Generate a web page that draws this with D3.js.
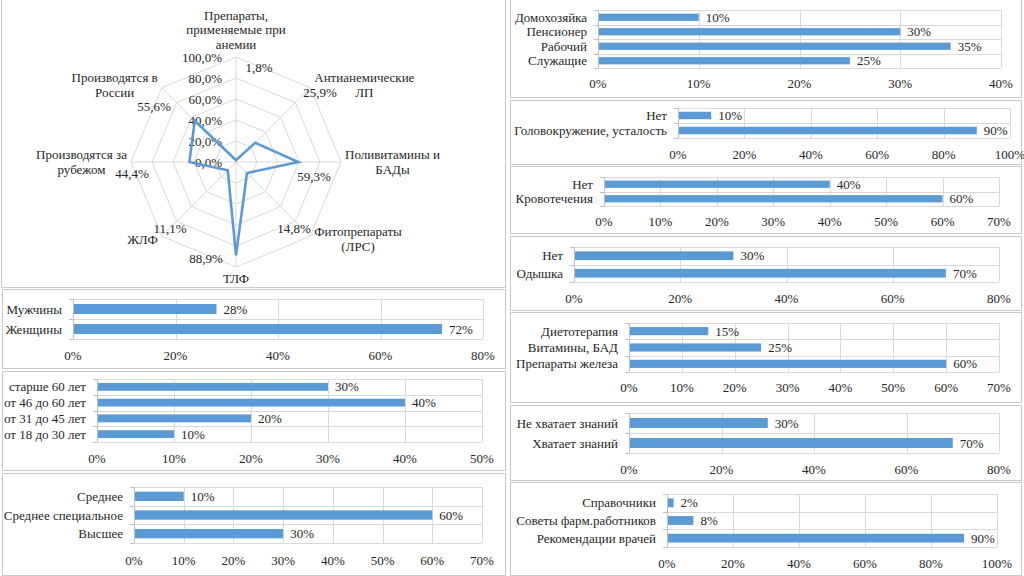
<!DOCTYPE html>
<html>
<head>
<meta charset="utf-8">
<script src="https://cdn.jsdelivr.net/npm/d3@7"></script>
<style>
  body { margin: 0; background: #fff; }
</style>
</head>
<body>
<div id="chart"></div>
<script>
// radar data
var radarCats = [["Препараты,", "применяемые при", "анемии"], ["Антианемические", "ЛП"], ["Поливитамины и", "БАДы"],
  ["Фитопрепараты", "(ЛРС)"], ["ТЛФ"], ["ЖЛФ"], ["Производятся за", "рубежом"], ["Производятся в", "России"]];
var radarVals = [1.8, 25.9, 59.3, 14.8, 88.9, 11.1, 44.4, 55.6];
var radarTicks = [0, 20, 40, 60, 80, 100];

// bar charts data
var genderCats = ["Мужчины", "Женщины"];
var genderVals = [28, 72];
var genderTicks = [0, 20, 40, 60, 80];

var ageCats = ["старше 60 лет", "от 46 до 60 лет", "от 31 до 45 лет", "от 18 до 30 лет"];
var ageVals = [30, 40, 20, 10];
var ageTicks = [0, 10, 20, 30, 40, 50];

var eduCats = ["Среднее", "Среднее специальное", "Высшее"];
var eduVals = [10, 60, 30];
var eduTicks = [0, 10, 20, 30, 40, 50, 60, 70];

var jobCats = ["Домохозяйка", "Пенсионер", "Рабочий", "Служащие"];
var jobVals = [10, 30, 35, 25];
var jobTicks = [0, 10, 20, 30, 40];

var dizzyCats = ["Нет", "Головокружение, усталость"];
var dizzyVals = [10, 90];
var dizzyTicks = [0, 20, 40, 60, 80, 100];

var bleedCats = ["Нет", "Кровотечения"];
var bleedVals = [40, 60];
var bleedTicks = [0, 10, 20, 30, 40, 50, 60, 70];

var dyspCats = ["Нет", "Одышка"];
var dyspVals = [30, 70];
var dyspTicks = [0, 20, 40, 60, 80];

var treatCats = ["Диетотерапия", "Витамины, БАД", "Препараты железа"];
var treatVals = [15, 25, 60];
var treatTicks = [0, 10, 20, 30, 40, 50, 60, 70];

var knowCats = ["Не хватает знаний", "Хватает знаний"];
var knowVals = [30, 70];
var knowTicks = [0, 20, 40, 60, 80];

var srcCats = ["Справочники", "Советы фарм.работников", "Рекомендации врачей"];
var srcVals = [2, 8, 90];
var srcTicks = [0, 20, 40, 60, 80, 100];

var blue = "#5b9bd5";
var gridCol = "#d9d9d9";
var frameCol = "#c9c9c9";

var svg = d3.select("#chart").append("svg")
  .attr("width", 1024)
  .attr("height", 576)
  .attr("font-family", "'Liberation Serif', 'DejaVu Serif', serif")
  .attr("font-size", 13)
  .attr("fill", "#262626")
  .style("display", "block");

// panel frames (layout)
var frames = [
  [1, -1, 505, 287], [2, 289, 505, 368], [2, 371, 505, 470], [2, 473, 505, 575],
  [510, -1, 1021, 97], [510, 100, 1021, 164], [510, 166, 1021, 233], [510, 236, 1021, 310],
  [510, 312, 1021, 402], [510, 405, 1021, 480], [510, 482, 1021, 575]
];
svg.selectAll("rect.frame").data(frames).enter().append("rect")
  .attr("class", "frame")
  .attr("x", function(d) { return d[0] + 0.5; })
  .attr("y", function(d) { return d[1] + 0.5; })
  .attr("width", function(d) { return d[2] - d[0]; })
  .attr("height", function(d) { return d[3] - d[1]; })
  .attr("fill", "none")
  .attr("stroke", frameCol);

// ---------- radar ----------
var cx = 236, cy = 162, R = 105;
var rScale = d3.scaleLinear().domain([0, 100]).range([0, R]);
var n = radarVals.length;
function ang(i) { return i * 2 * Math.PI / n; }
function pt(i, v) {
  return [cx + rScale(v) * Math.sin(ang(i)), cy - rScale(v) * Math.cos(ang(i))];
}
var radar = svg.append("g");

radarTicks.slice(1).forEach(function(t) {
  radar.append("polygon")
    .attr("points", d3.range(n).map(function(i) { return pt(i, t).join(","); }).join(" "))
    .attr("fill", "none")
    .attr("stroke", gridCol);
});
d3.range(n).forEach(function(i) {
  var p = pt(i, 100);
  radar.append("line")
    .attr("x1", cx).attr("y1", cy).attr("x2", p[0]).attr("y2", p[1])
    .attr("stroke", gridCol);
});

var pctFmt = function(v) { return d3.format(".1f")(v).replace(".", ",") + "%"; };

radar.selectAll("text.rtick").data(radarTicks).enter().append("text")
  .attr("class", "rtick")
  .attr("x", cx - 14)
  .attr("y", function(d) { return cy - rScale(d); })
  .attr("dy", "0.35em")
  .attr("text-anchor", "end")
  .text(pctFmt);

var line = d3.line().curve(d3.curveLinearClosed);
radar.append("path")
  .attr("d", line(radarVals.map(function(v, i) { return pt(i, v); })))
  .attr("fill", "none")
  .attr("stroke", blue)
  .attr("stroke-width", 2.6)
  .attr("stroke-linejoin", "miter");

// category labels around the radar
radarCats.forEach(function(lines, i) {
  var v = pt(i, 100);
  var s = Math.sin(ang(i)), c = Math.cos(ang(i));
  var lh = 14.5;
  var g = radar.append("g");
  var ts = lines.map(function(l, k) {
    return g.append("text").attr("text-anchor", "middle").attr("dy", "0.35em").attr("y", k * lh).text(l);
  });
  var w = d3.max(ts, function(t) { return t.node().getComputedTextLength(); });
  var bx, by;
  if (Math.abs(s) < 0.01) {
    bx = v[0];
    by = c > 0 ? v[1] - 13 - (lines.length - 1) * lh : v[1] + 11;
  } else {
    bx = v[0] + (s > 0 ? 1 : -1) * (4 + w / 2);
    by = v[1] - 4 * c - (lines.length - 1) * lh / 2;
  }
  g.attr("transform", "translate(" + bx + "," + by + ")");
});

// value labels (offsets from centre, layout only)
var radarValueOffsets = [[23, -95], [84, -70], [78, 14], [58, 66], [-30, 96], [-66, 66], [-104, 11], [-82, -56]];
radar.selectAll("text.rval").data(radarVals).enter().append("text")
  .attr("class", "rval")
  .attr("x", function(d, i) { return cx + radarValueOffsets[i][0]; })
  .attr("y", function(d, i) { return cy + radarValueOffsets[i][1]; })
  .attr("dy", "0.35em")
  .attr("text-anchor", "middle")
  .text(function(d) { return pctFmt(d); });

// ---------- bar charts ----------
function barChart(cats, vals, ticks, box, tickY) {
  var left = box[0], top = box[1], right = box[2], bottom = box[3];
  var g = svg.append("g");
  var x = d3.scaleLinear().domain([0, d3.max(ticks)]).range([left, right]);
  var y = d3.scaleBand().domain(cats).range([top, bottom]).paddingInner(0.5).paddingOuter(0.25);
  var step = (bottom - top) / cats.length;

  // vertical grid lines
  g.selectAll("line.vg").data(ticks.slice(1)).enter().append("line")
    .attr("x1", function(d) { return Math.round(x(d)) + 0.5; })
    .attr("x2", function(d) { return Math.round(x(d)) + 0.5; })
    .attr("y1", top).attr("y2", bottom)
    .attr("stroke", gridCol);
  // horizontal lines at category boundaries
  g.selectAll("line.hg").data(d3.range(cats.length + 1)).enter().append("line")
    .attr("x1", left).attr("x2", right)
    .attr("y1", function(d) { return Math.round(top + d * step) + 0.5; })
    .attr("y2", function(d) { return Math.round(top + d * step) + 0.5; })
    .attr("stroke", gridCol);
  // left axis + ticks
  g.append("line")
    .attr("x1", Math.round(left) + 0.5).attr("x2", Math.round(left) + 0.5)
    .attr("y1", top).attr("y2", bottom)
    .attr("stroke", "#bfbfbf");
  g.selectAll("line.yt").data(d3.range(cats.length + 1)).enter().append("line")
    .attr("x1", left - 4).attr("x2", left)
    .attr("y1", function(d) { return Math.round(top + d * step) + 0.5; })
    .attr("y2", function(d) { return Math.round(top + d * step) + 0.5; })
    .attr("stroke", "#bfbfbf");

  g.selectAll("rect.bar").data(vals).enter().append("rect")
    .attr("x", x(0) + 1)
    .attr("y", function(d, i) { return y(cats[i]); })
    .attr("width", function(d) { return x(d) - x(0) - 1; })
    .attr("height", y.bandwidth())
    .attr("fill", blue);

  g.selectAll("text.val").data(vals).enter().append("text")
    .attr("x", function(d) { return x(d) + 7; })
    .attr("y", function(d, i) { return y(cats[i]) + y.bandwidth() / 2; })
    .attr("dy", "0.35em")
    .text(function(d) { return d + "%"; });

  g.selectAll("text.cat").data(cats).enter().append("text")
    .attr("x", left - 11)
    .attr("y", function(d) { return y(d) + y.bandwidth() / 2; })
    .attr("dy", "0.35em")
    .attr("text-anchor", "end")
    .text(function(d) { return d; });

  g.selectAll("text.tick").data(ticks).enter().append("text")
    .attr("x", function(d) { return x(d); })
    .attr("y", tickY)
    .attr("dy", "0.35em")
    .attr("text-anchor", "middle")
    .text(function(d) { return d + "%"; });
}

barChart(genderCats, genderVals, genderTicks, [73, 299, 483, 339], 355);
barChart(ageCats, ageVals, ageTicks, [97, 379, 482, 442], 458);
barChart(eduCats, eduVals, eduTicks, [134, 487, 482, 543], 560);
barChart(jobCats, jobVals, jobTicks, [598, 10, 1001, 68], 83);
barChart(dizzyCats, dizzyVals, dizzyTicks, [678, 108, 1010, 138], 154);
barChart(bleedCats, bleedVals, bleedTicks, [604, 177, 999, 206], 221);
barChart(dyspCats, dyspVals, dyspTicks, [574, 247, 999, 282], 298);
barChart(treatCats, treatVals, treatTicks, [629, 323, 999, 372], 387);
barChart(knowCats, knowVals, knowTicks, [629, 413, 999, 453], 469);
barChart(srcCats, srcVals, srcTicks, [667, 494, 997, 547], 563);
</script>
</body>
</html>
